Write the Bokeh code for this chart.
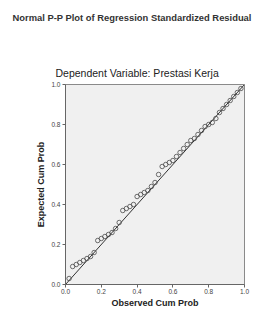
from bokeh.plotting import figure
from bokeh.models import Title, Range1d, FixedTicker, LinearAxis
from bokeh.embed import file_html
from bokeh.resources import INLINE

title_text = "Normal P-P Plot of Regression Standardized Residual"
subtitle_text = "Dependent Variable: Prestasi Kerja"
x_label = "Observed Cum Prob"
y_label = "Expected Cum Prob"
ticks = [0.0, 0.2, 0.4, 0.6, 0.8, 1.0]
tick_labels = {0.0: "0.0", 0.2: "0.2", 0.4: "0.4", 0.6: "0.6", 0.8: "0.8", 1.0: "1.0"}

observed = [0.02, 0.04, 0.06, 0.08, 0.10, 0.12, 0.14, 0.16, 0.18, 0.20,
            0.22, 0.24, 0.26, 0.28, 0.30, 0.32, 0.34, 0.36, 0.38, 0.40,
            0.42, 0.44, 0.46, 0.48, 0.50, 0.52, 0.54, 0.56, 0.58, 0.60,
            0.62, 0.64, 0.66, 0.68, 0.70, 0.72, 0.74, 0.76, 0.78, 0.80,
            0.82, 0.84, 0.86, 0.88, 0.90, 0.92, 0.94, 0.96, 0.98]
expected = [0.03, 0.09, 0.10, 0.11, 0.12, 0.13, 0.14, 0.16, 0.22, 0.23,
            0.24, 0.25, 0.26, 0.28, 0.31, 0.37, 0.38, 0.39, 0.40, 0.44,
            0.45, 0.46, 0.47, 0.49, 0.51, 0.55, 0.59, 0.60, 0.61, 0.62,
            0.64, 0.66, 0.68, 0.70, 0.72, 0.73, 0.75, 0.77, 0.79, 0.80,
            0.81, 0.83, 0.86, 0.88, 0.90, 0.92, 0.94, 0.96, 0.98]
diag = [0.0, 1.0]

FONT = "Liberation Sans"

W, H = 257, 310
BL, BR, BT, BB = 65, 13, 84, 23

p = figure(width=W, height=H, output_backend="svg", toolbar_location=None,
           x_range=Range1d(0, 1), y_range=Range1d(0, 1),
           min_border_left=BL, min_border_right=BR, min_border_top=BT, min_border_bottom=BB)

p.background_fill_color = "#f0f0f0"
p.border_fill_color = "white"
p.outline_line_color = "#8a8a8a"
p.outline_line_width = 1
p.xgrid.visible = False
p.ygrid.visible = False

bottom_ax = p.below[0]
left_ax = p.left[0]

# subtitle: closest to the frame
sub = Title(text=subtitle_text, align="left", offset=55 - BL, standoff=12,
            text_font=FONT, text_font_size="10.5px", text_font_style="normal",
            text_color="#222222")
p.add_layout(sub, "above")

# empty spacer panel between subtitle and main title (invisible tick only)
spacer = LinearAxis(ticker=FixedTicker(ticks=[0.5]), axis_line_color=None,
                    major_tick_line_color=None, minor_tick_line_color=None,
                    major_tick_out=36, major_tick_in=0, minor_tick_out=0,
                    major_label_standoff=0, major_label_overrides={0.5: ""},
                    major_label_text_font_size="0px")
p.add_layout(spacer, "above")

# main title: outermost
main = Title(text=title_text, align="left", offset=12 - BL, standoff=0,
             text_font=FONT, text_font_size="9.4px", text_font_style="bold",
             text_color="#333333")
p.add_layout(main, "above")

for ax in (bottom_ax, left_ax):
    ax.ticker = FixedTicker(ticks=ticks)
    ax.major_label_overrides = tick_labels
    ax.major_label_text_font = FONT
    ax.major_label_text_font_size = "6.5px"
    ax.major_label_text_color = "#444444"
    ax.axis_line_color = "#666666"
    ax.major_tick_line_color = "#666666"
    ax.major_tick_out = 3
    ax.major_tick_in = 0
    ax.minor_tick_line_color = None
    ax.axis_label_text_font = FONT
    ax.axis_label_text_font_size = "9px"
    ax.axis_label_text_font_style = "bold"
    ax.axis_label_text_color = "#222222"
    ax.major_label_standoff = 2
    ax.axis_label_standoff = 2

bottom_ax.axis_label = x_label
bottom_ax.major_label_standoff = 1
bottom_ax.axis_label_standoff = 1
left_ax.axis_label = y_label

p.line(diag, diag, line_color="#333333", line_width=1)
p.scatter(observed, expected, marker="circle", size=4.5, fill_color=None,
          line_color="#4a4a4a", line_width=0.8)

open("out.html", "w").write(file_html(p, INLINE))
